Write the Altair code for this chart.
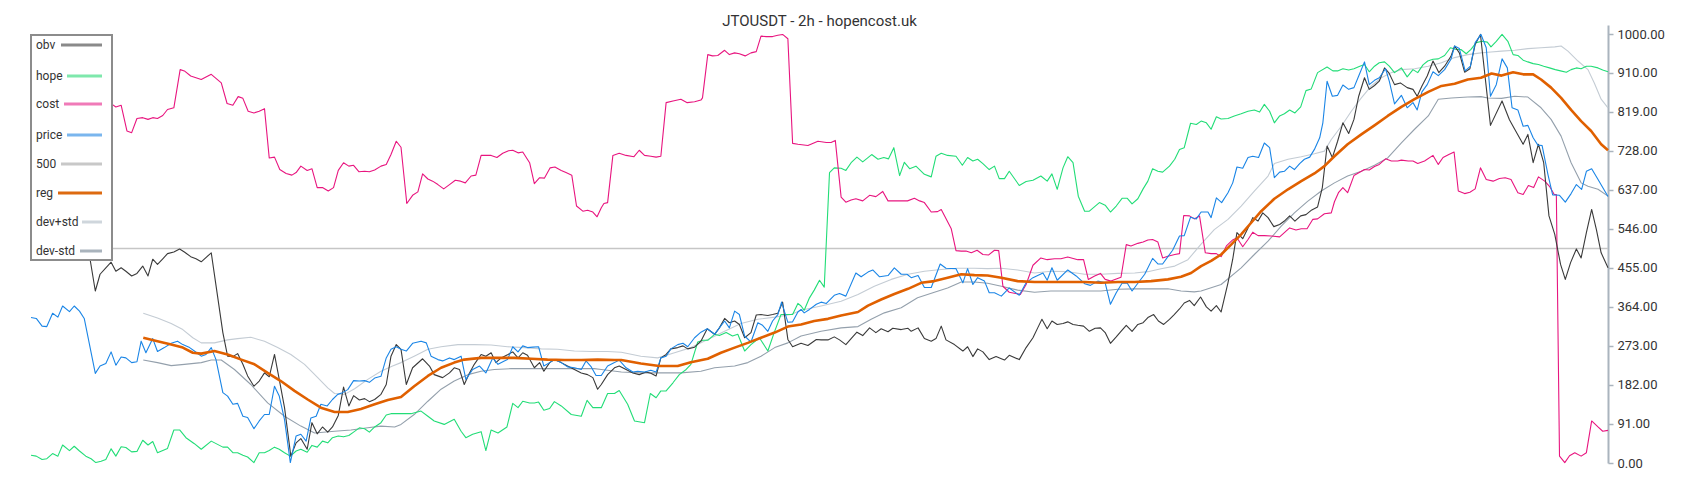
import altair as alt
import pandas as pd

TITLE = "JTOUSDT - 2h - hopencost.uk"

# ---- series values: (time index, value) ----
price = [(0,339),(1,337),(2.1,319),(3,318),(4.1,349),(5.1,340),(6,366),(7.3,353),(8.2,366),(9.2,354),(10.1,337),(12.2,209),(13.1,226),(14.2,232),(15.2,259),(16.1,228),(17.1,247),(18,245),(19.1,234),(20.1,236),(20.9,284),(21.8,257),(23.1,290),(24,260),(25.3,269),(26.6,279),(27.8,284),(28.8,276),(30.1,269),(31,261),
(32.3,249),(33.2,253),(34.2,269),(35.1,241),(36.4,164),(37.3,156),(38.3,137),(39.2,139),(40.2,109),(41.1,106),(42.3,80),(43.3,98),(44.3,113),(45.2,113),(46.2,179),(47.1,156),(48.1,101),(49.2,1),(50.3,63),(51.2,67),(52.2,51),(53.1,105),(54.1,109),(55,137),(56.2,133),(57.2,148),(58.2,160),(59.1,164),(60.1,171),(61.2,192),(62.3,191),(63.3,192),(64.2,188),(65.2,198),(66.4,202),(67.4,245),(68.3,265),(69.3,271),
(70.2,265),(71.2,261),(72.4,279),(74,284),(75,280),(75.9,249),(77.2,241),(78.1,238),(79.4,245),(80.3,241),(81.6,249),(82.5,195),(83.8,218),(85.1,226),(86.3,210),(87.6,245),(88.6,230),(89.8,238),(90.4,241),(91.4,271),(92.4,259),(93.3,273),(94.2,269),(95.2,270),(96.3,271),(97.3,226),(98.4,234),(99.3,241),(100.6,234),(101.8,224),(103.1,222),(104.4,218),(105.3,238),(106.3,224),(107.2,204),
(108.2,204),(109.4,226),(110.7,234),(111.6,240),(112.9,222),(114.2,212),(115.1,214),(116.4,212),(117.6,216),(118.6,212),(119.5,245),(120.5,249),(121.4,266),(122.7,276),(123.7,279),(124.6,271),(125.9,292),(127.1,305),(128.3,313),(129.7,300),(130.6,315),(131.6,331),(132.5,315),(133.5,354),(134.4,346),(135.4,296),(136.6,282),(137.9,327),(138.8,321),(139.8,307),(140.7,331),(141.7,346),(142.4,375),(143.6,328),(144.5,329),(145.5,352),
(146.1,358),(146.7,350),(147.7,358),(149,370),(149.9,375),(150.9,372),(152.4,391),(153.4,395),(154.6,389),(156.5,443),(157.5,434),(158.8,445),(159.7,450),(161,434),(162.6,437),(163.8,455),(165.1,440),(166.2,440),(167,432),(168.3,437),(169.5,409),(170.8,409),(172.5,464),(173.6,454),(175.5,453),(176.8,420),(177.7,453),(178.7,416),(179.6,432),(180.9,424),(181.8,397),(182.8,397),
(184.1,389),(185.6,408),(187.5,391),(188.8,420),(190.1,432),(192,443),(192.8,426),(193.7,455),(194.7,426),(196.7,450),(198.3,436),(199.9,418),(201,414),(202.4,424),(203.8,420),(204.8,370),(205.9,397),(207,419),(208,419),(208.9,401),(210,419),(211.3,440),(212.8,477),(213.8,464),(214.7,464),(215.7,481),(216.6,496),(217.9,529),(218.8,530),(220,573),(221.1,569),
(222,585),(223.3,585),(223.9,572),(224.9,618),(225.9,607),(227.1,630),(228,653),(228.8,690),(229.9,687),(230.9,712),(231.8,715),(232.9,712),(234,746),(235,735),(235.9,665),(236.9,678),(237.8,680),(238.8,692),(239.7,684),(240.7,698),(241.6,708),(242.6,713),(243.5,731),(244.5,758),(245.1,793),(245.9,890),(246.9,855),(247.9,857),(248.9,881),(250,871),(251,875),(251.9,902),(253,935),(253.9,882),(254.9,892),(255.8,898),(257,919),(257.7,890),(258.7,837),
(260,857),(261.1,828),(262.2,840),(263,823),(263.9,865),(264.9,882),(266,912),(267,903),(268.2,917),(269.4,941),(270.1,972),(271,966),(272.1,914),(273.1,925),(274,980),(275.1,999),(276.1,968),(276.9,855),(278,882),(279.1,942),(280.1,921),(281,828),(282.1,823),(283.1,785),(284,787),(285,758),(285.9,741),(286.7,740),(287.8,673),(288.7,625),(290,624),(291.1,608),(292.2,628),(293.2,649),(294.2,638),(295.1,680),(296.1,686),(297.2,663),(298.2,642),(299.2,621)]

obv = [(0,520),(2,535),(4,528),(6,540),(8,530),(10,515),
(10.9,498),(12.2,401),(13.1,440),(14.2,455),(15.2,468),(16.1,447),(17.1,455),(18,447),(19.1,436),(20.1,442),(21.2,459),(22.2,436),(23.1,475),(24,463),(25,476),(25.9,488),(27.1,492),(28.2,499),(29.1,492),(30.3,481),(31.3,476),
(32.3,469),(34.2,490),(36.4,304),(37.3,249),(38.3,248),(39.2,255),(40.2,230),(41.1,203),(42.3,179),(43.3,191),(44.3,210),(45.2,201),(46.2,253),(47.1,195),(48.1,129),(49.3,16),(50.3,47),(51.2,57),(52.4,32),(53.3,94),(54.3,68),(55.3,84),(56.3,72),(57.2,84),(58.3,111),(59.3,177),(60.3,133),(61.2,157),(62.3,147),(63.3,150),(64.2,143),(65.2,148),(66.4,160),(67.4,183),(68.3,249),(69.3,276),
(70.2,265),(71.2,183),(72.4,222),(74.3,243),(75.6,226),(76.5,206),(78.1,199),(79.4,210),(80.3,222),(81.3,218),(82.2,183),(83.2,210),(84.1,230),(85.4,253),(86.3,249),(87.3,257),(88.2,234),(89.2,245),(90.5,253),(91.4,259),(92.4,245),(93.3,257),(94.2,251),(95.5,222),(96.5,234),(97.3,214),(98.4,234),(99.3,241),(100.6,234),(101.8,226),(103.1,218),(104.4,210),(105.6,206),(106.6,199),(107.5,172),
(108.2,183),(109.4,206),(110.7,222),(111.6,226),(112.9,218),(114.2,210),(115.4,206),(116.7,212),(117.6,209),(118.6,203),(119.5,245),(120.5,253),(121.4,266),(122.7,269),(123.7,273),(124.6,266),(125.9,270),(127.1,284),(128.3,313),(129.7,300),(130.6,315),(131.6,337),(132.5,327),(133.5,331),(134.4,323),(135.4,292),(136.6,304),(137.6,345),(138.5,346),(139.8,344),(140.7,346),(141.7,349),(142.6,375),(143.6,288),(144.5,271),(145.5,276),
(146.1,279),(147.4,274),(149,288),(149.9,287),(151.2,287),(152.4,294),(153.4,287),(154.6,276),(155.6,290),(156.7,305),(157.8,297),(159.1,315),(160.3,304),(161.3,313),(162.6,306),(163.5,314),(165.1,311),(166.4,314),(167,307),(168.3,315),(169.5,290),(170.8,284),(171.7,290),(172.7,319),(173.6,287),(175.2,276),(176.8,261),(177.7,271),(178.7,248),(179.6,266),(180.6,259),(181.8,241),(183.1,248),
(184.1,243),(184.7,240),(185.6,251),(187.5,241),(188.8,269),(190.1,292),(191,315),(191.8,335),(192.8,313),(193.7,331),(194.7,323),(195.8,325),(196.7,329),(197.7,323),(198.6,321),(199.7,319),(200.8,307),(201.9,314),(202.9,315),(203.8,304),(204.8,279),(205.9,294),(206.8,307),(207.8,321),(208.9,307),(210,323),(211,327),(211.9,339),(213,346),(213.9,331),(214.9,323),(216,335),(216.9,346),(217.9,359),(218.8,373),(219.8,379),(220.7,367),(221.9,387),
(223,364),(223.9,354),(224.9,367),(225.8,352),(227.1,420),(228,475),(228.8,537),(229.9,523),(230.9,548),(231.8,572),(232.8,564),(233.7,583),(234.7,572),(235.8,551),(236.9,556),(237.8,564),(238.8,576),(239.8,564),(240.9,576),(241.9,579),(243,590),(244.1,597),(245,642),(245.9,739),(246.9,712),(247.9,750),(248.9,793),(250,768),(251,801),(251.9,855),(253,898),(253.9,871),(254.9,880),(255.8,890),(256.8,921),(257.7,908),(258.7,882),(259.8,886),
(261.1,875),(262.2,871),(263,855),(263.9,879),(264.9,902),(266,937),(267.1,910),(268.2,925),(269.4,948),(270.1,972),(271,956),(272,911),(273,919),(274,976),(275,999),(276.9,787),(279.1,844),(280.5,800),(281.5,778),(283.1,743),(284,766),(285,700),(286,743),(287,700),(288,576),(289.1,533),(290.2,463),(291.1,428),(292.1,467),(293.2,499),(294.1,478),(295.1,537),(296.1,591),(297,544),(297.9,490),(299.2,455)]

hope = [(0,18),(1,16),(2.1,8),(3,10),(4.1,22),(5.1,16),(6,42),(7.3,29),(8.2,39),(9.2,28),(10.4,16),(11.4,10),(12.3,1),(13.3,4),(14.2,8),(15.2,33),(16.1,16),(17.1,38),(18,36),(19.1,26),(20.1,27),(21.2,53),(22.2,42),(23.1,50),(24,24),(25.9,34),(27.1,77),(28.2,77),(29.4,59),(31,45),
(32.3,32),(34.2,51),(36.4,37),(37.3,37),(38.3,24),(39.2,24),(40.2,18),(41.1,14),(42.3,1),(43.3,24),(44.3,24),(45.2,29),(46.2,37),(47.1,32),(48.1,24),(49.2,16),(50.3,28),(51.2,32),(52.4,25),(53.3,41),(54.3,37),(55.3,51),(56.3,47),(57.2,59),(58.3,63),(59.3,61),(60.3,64),(61.2,72),(62.3,82),(63.3,80),(64.2,72),(65.2,84),(66.4,94),(67.4,112),(68.3,115),
(70.2,115),(72.1,115),(74,121),(75.3,109),(76.5,98),(78.4,90),(80.3,102),(81.6,74),(82.5,59),(83.8,67),(85.4,73),(86.3,29),(87.3,77),(88.6,70),(90.3,84),(91.4,139),(92.4,129),(93.3,144),(94.6,140),(95.5,140),(96.3,142),(97.3,123),(98.4,127),(99.3,143),(100.6,133),(102.5,113),(104.4,109),(105.5,146),(106.6,129),
(108.2,129),(109.4,162),(110.7,162),(111.6,169),(113.2,137),(114.5,98),(116.4,94),(117.5,162),(118.6,152),(119.5,168),(120.5,168),(121.8,187),(123,206),(124.3,218),(125.2,230),(126.5,282),(127.5,286),(128.4,286),(129.7,300),(130.6,297),(131.9,304),(133.1,296),(134.1,300),(135.4,261),(136.6,276),(138.2,292),(139.8,261),(141,304),(142.3,346),(143.6,346),(144.5,346),(145.5,372),
(146.1,366),(146.7,356),(147.7,385),(148.6,403),(149.6,426),(150.5,410),(151.5,677),(152.4,688),(153.7,687),(154.6,682),(155.6,700),(156.7,713),(157.8,702),(158.8,712),(159.5,719),(160.7,708),(161.8,712),(162.7,709),(163.7,735),(164.8,670),(165.7,701),(166.7,686),(167.9,692),(169.5,673),(170.8,667),(171.7,715),(172.7,722),(173.9,717),(175.5,715),(176.7,694),(177.7,712),(178.7,704),(179.6,708),(180.6,698),(181.8,684),(182.8,692),(183.7,663),
(184.7,663),(185.6,680),(187.5,647),(188.8,656),(190.1,659),(191.6,669),(192.8,657),(193.7,674),(194.7,638),(195.8,688),(196.7,714),(197.7,700),(198.7,622),(199.9,587),(200.8,587),(202.7,607),(203.8,601),(204.8,585),(205.9,599),(207,617),(208,617),(208.9,604),(210,616),(211,639),(211.9,657),(212.8,686),(213.8,680),(214.7,678),(216,692),(217,708),(217.9,731),(218.8,735),(220,792),(221.1,789),
(222,797),(223,793),(223.9,778),(224.9,807),(225.8,802),(227.1,803),(228.3,809),(229.6,814),(230.9,820),(232.1,823),(233.1,818),(234,836),(235,820),(235.9,793),(236.9,809),(237.8,814),(238.8,823),(239.8,816),(240.9,830),(241.9,868),(242.9,872),(244.1,910),(245.9,923),(247,914),(247.9,914),(248.9,919),(250,916),(251,919),(252,924),(253,929),(253.9,912),(254.9,925),(255.8,933),(256.8,935),(257.7,925),(258.7,910),
(260,921),(261.1,900),(262.2,917),(263.1,910),(264.1,928),(265,937),(266,941),(267,942),(268.2,950),(269.3,968),(270.4,964),(271.3,964),(272.3,954),(273.2,964),(274.2,980),(275.3,983),(276.3,981),(277,970),(278,983),(279.1,999),(280.2,983),(281.2,952),(282.1,950),(283.1,939),(284,935),(285,931),(286,929),(287,925),(288.1,921),(289.2,917),(290.2,914),(291.3,911),(292.2,917),(293.2,921),(294.1,919),(295.1,925),(296,925),(297.3,921),(298.2,916),(299.2,912)]

cost = [(0,957),(1.5,880),(4,870),(7,860),(10,850),(13,845),
(15.4,836),(16.1,830),(17.1,834),(18.2,774),(19.1,770),(20.1,803),(21.2,805),(22.2,801),(23.1,805),(24,803),(25,810),(25.9,824),(27.1,828),(28.3,917),(29.1,914),(30.3,902),(31.3,898),
(32.3,894),(34.2,906),(36.1,886),(37.2,838),(38.3,834),(39.3,854),(40.2,850),(41.2,820),(42.3,816),(43.3,820),(44.3,826),(45.2,711),(46.2,713),(47.2,684),(48.4,675),(49.5,671),(50.3,677),(51.2,692),(52.4,682),(53.3,686),(54.3,642),(55.3,642),(56.4,634),(57.4,642),(58.3,682),(59.3,700),(60.3,692),(61.2,694),(62.2,679),(63.3,680),(64.2,679),(65.2,683),(66.4,692),(67.4,696),(68.3,719),(69.3,750),
(70.2,736),(71.3,605),(72.4,624),(73.4,632),(74.3,674),(75.3,662),(76.2,657),(77.2,649),(78.3,639),(79.4,649),(80.5,659),(81.5,657),(82.4,653),(83.5,669),(84.4,671),(85.4,717),(87.3,717),(88.4,712),(89.5,722),(90.6,728),(91.4,729),(92.4,723),(93.3,725),(94.6,700),(95.5,651),(96.5,665),(97.4,664),(98.5,688),(99.4,690),(100.6,682),(101.5,677),(102.6,671),(103.5,599),(104.7,587),(105.6,589),(106.6,585),(107.4,574),
(108.2,595),(108.7,605),(109.4,607),(110.4,717),(111.6,722),(112.9,717),(114.4,714),(115.4,729),(116.4,717),(117.6,715),(118.6,713),(119.5,715),(120.5,840),(121.8,844),(123.3,848),(124.5,840),(125.9,842),(127.1,846),(127.4,851),(128.4,952),(129.3,949),(130.3,950),(131.6,962),(132.5,952),(133.5,956),(134.4,954),(135.5,949),(136.6,956),(137.6,959),(138.5,995),(139.5,994),(140.7,994),(141.7,997),(142.6,999),(143.6,989),(144.5,745),(145.5,743),
(147.4,740),(149.3,750),(150.9,747),(151.8,747),(152.6,752),(153.7,620),(154.6,608),(155.6,613),(156.5,616),(157.8,611),(159.1,624),(160.3,621),(161.6,633),(162.6,611),(163.8,611),(165.1,611),(166.3,611),(167.6,617),(168.6,611),(169.5,607),(170.8,585),(172,586),(172.7,591),(174.6,546),(175.5,495),(176.5,494),(177.4,494),(178.4,490),(179.5,496),(180.6,486),(181.7,485),(182.8,496),(183.6,495),
(184.4,412),(185.6,398),(187.7,393),(188.8,416),(190.1,461),(191.6,478),(192.8,474),(194.2,476),(195.4,476),(196.7,480),(198.6,474),(199.7,474),(200.6,428),(201.8,436),(202.9,442),(203.8,428),(204.9,424),(205.9,429),(206.8,433),(207.8,509),(208.7,506),(210,512),(211,515),(211.9,520),(212.8,521),(213.8,515),(214.7,478),(215.7,482),(217,486),(217.9,488),(218.7,577),(219.8,576),(220.7,569),(221.7,576),
(222.8,490),(223.9,488),(224.9,488),(225.8,481),(226.8,506),(228,520),(228.8,525),(229.9,504),(230.9,521),(231.8,538),(232.8,530),(234,530),(235.3,529),(236.9,527),(237.8,537),(238.8,548),(240,543),(241,546),(242.1,546),(243.2,568),(244.1,569),(245.4,581),(246.7,583),(247.3,609),(248.1,631),(248.9,642),(249.8,630),(251,670),(252,677),(253,684),(253.9,683),(254.9,691),(255.8,696),(257,709),(258.1,704),(259.3,704),
(260,706),(261.3,704),(262.2,704),(263.1,698),(264.4,704),(266,717),(267,696),(267.9,712),(269,719),(270,725),(270.8,634),(272,628),(273,631),(274,639),(275,688),(276.1,661),(277.4,657),(278.6,663),(279.7,665),(280.8,661),(282.1,630),(283.1,626),(284.1,647),(285.1,642),(286,667),(287.2,657),(288.1,645),(289,626),(289.4,626),(290,16),(291,1),(291.9,17),(292.9,24),(294.1,16),(295.1,24),(296.1,98),(297.3,84),(298.2,74),(299.2,76)]

dev_plus = [(21.3,349),(24,338),(26.6,325),(28.8,311),(30.7,292),(32.3,280),(34.8,280),(37.3,287),(39.2,290),(41.7,293),(44.3,284),(46.8,269),(49.3,253),(51.9,230),(54.4,199),(56.3,175),(57.6,162),(59.5,160),(61.4,173),(63.9,195),(66.4,214),(68.6,226),(70.2,234),(72.7,249),(75.3,265),(77.8,271),(81,276),(84.1,276),(87.3,275),(90.4,271),(93.6,269),(96.8,266),(99.9,265),(103.1,261),(106.3,260),(109.4,260),(112,258),(115.7,249),(118.9,245),(122.1,257),(125.2,269),(128.4,288),(131.6,307),(134.7,325),(137.9,335),(141.1,340),(144.2,346),(146.1,356),(149.9,366),(153.7,377),(156.9,393),(160,412),(163.2,428),(166.4,440),(169.5,447),(172.7,451),(175.8,454),(179,454),(181.5,453),(184.1,454),(187.2,450),(190.4,443),(193.5,447),(196.7,446),(199.9,440),(203,440),(206.2,442),(209.4,443),(211.9,446),(214.4,453),(217,459),(219.5,474),(222,510),(224.5,544),(227.1,568),(229.6,599),(232.1,634),(234.7,669),(235.9,698),(238.5,708),(241,714),(243.5,721),(245.4,727),(246.7,754),(248.6,785),(250.5,820),(252.4,851),(254.3,879),(256.2,898),(258.1,910),(260,917),(262.5,919),(265.1,925),(267.6,933),(270.1,945),(272.6,952),(275.1,956),(277,958),(279,960),(281.5,962),(284,966),(286.5,968),(289.1,970),(290.3,972),(291.6,960),(293.5,937),(295.4,917),(296.6,886),(297.9,848),(299.2,828)]

reg = [(21.3,292),(24,284),(26.6,276),(28.8,269),(30.7,257),(32.3,255),(34.8,261),(37.3,253),(39.9,241),(42.4,230),(44.9,210),(47.4,191),(50,168),(52.5,148),(55,129),(57.6,119),(60.1,119),(62.6,126),(65.2,137),(67.7,147),(70.2,154),(72.7,179),(75.3,203),(77.8,222),(80.3,234),(82.2,241),(85.4,245),(88.6,245),(91.7,245),(94.9,243),(98,241),(101.2,240),(104.4,240),(107.5,241),(110.7,240),(112,240),(115.7,232),(119.2,226),(122.7,226),(125.2,235),(128.4,243),(130.9,257),(133.5,269),(136,280),(138.5,292),(141.1,304),(143.6,318),(146.1,323),(148.6,331),(151.2,336),(153.7,344),(156.9,352),(158.8,367),(161.3,381),(163.8,394),(166.4,406),(168.9,420),(171.4,424),(173.9,432),(176.5,440),(179,438),(181.5,437),(184.1,432),(187.2,424),(190.4,422),(193.5,422),(196.7,422),(199.9,422),(203,420),(206.2,422),(209.4,422),(212.5,424),(215.7,428),(218.2,434),(220.1,443),(222,459),(223.9,471),(225.8,486),(227.7,509),(229.6,533),(231.5,560),(233.4,587),(235.9,616),(238.5,638),(241,657),(243.5,675),(245.4,692),(247.3,715),(249.8,743),(252.4,766),(254.9,787),(257.4,809),(260,830),(262.5,848),(265.1,865),(267.6,879),(270.1,884),(272.6,894),(275.1,898),(277.1,908),(279,903),(281.2,911),(283.1,906),(285,906),(286.5,894),(288.4,875),(290.3,851),(292.2,823),(294.1,797),(296,774),(297.9,743),(299.2,729)]

dev_minus = [(21.3,240),(24,234),(26.6,227),(29.1,230),(32.3,234),(34.2,240),(36.1,240),(38.6,218),(41.7,183),(44.9,140),(48.1,109),(51.2,86),(53.8,70),(57.6,74),(60.7,77),(63.9,82),(66.4,86),(69,84),(70.2,90),(72.7,113),(75.3,144),(77.8,172),(80.3,191),(82.9,206),(85.4,214),(87.9,218),(91.1,220),(94.2,220),(97.4,220),(100.6,220),(103.7,220),(106.9,220),(108.2,218),(112,212),(115.7,210),(119.5,210),(123.3,210),(127.1,214),(129.7,222),(133.5,226),(136,234),(138.5,249),(141.1,269),(143.6,280),(146.1,296),(149.9,307),(153.7,315),(156.9,318),(159.4,335),(161.9,350),(165.1,362),(168.2,385),(171.4,398),(173.9,408),(176.5,422),(179,422),(181.5,419),(184.1,412),(187.2,403),(190.4,398),(193.5,401),(196.7,401),(199.9,401),(203,401),(206.2,405),(209.4,406),(212.5,406),(215.7,406),(218.2,401),(220.7,399),(222,401),(225.8,416),(229.6,455),(232.1,486),(234.7,517),(237.2,552),(239.7,583),(242.2,610),(244.8,634),(247.3,653),(249.8,669),(252.4,680),(254.9,694),(257.4,711),(260,746),(262.5,778),(265.1,809),(267,848),(269.5,851),(272.6,853),(275.1,854),(276.4,851),(279,850),(281.5,855),(284,853),(286.5,828),(288.4,801),(290.3,762),(292.2,700),(294.1,653),(295.4,645),(297.3,638),(299.2,622)]

level_500 = [(0,500),(299.2,500)]

y_ticks = [0, 91, 182, 273, 364, 455, 546, 637, 728, 819, 910, 1000]
legend_labels = ["obv", "hope", "cost", "price", "500", "reg", "dev+std", "dev-std"]

# ---- styling ----
line_colors = {"obv": "#3a3a3a", "hope": "#22dd77", "cost": "#e8157f", "price": "#1a85e6",
               "500": "#c6c6c6", "reg": "#e06000", "dev+std": "#c4ccd4", "dev-std": "#94a0ac"}
line_widths = {"obv": 1.1, "hope": 1.1, "cost": 1.1, "price": 1.1, "500": 1.6, "reg": 2.6,
               "dev+std": 1.1, "dev-std": 1.1}
legend_colors = ["#8a8a8a", "#7ee8ac", "#f07ab8", "#7ab6ee", "#c8c8c8", "#dd6a10", "#cfd6dc", "#a9b3bc"]
# legend layout in pixels (relative to plot origin)
legend_row_y = [20, 51, 79, 110, 139, 168, 197, 226]
legend_sym_x1 = [30, 36, 33, 36, 30, 27, 51, 49]
legend_sym_x2 = 71
legend_text_x = 5
legend_box = dict(x=0, x2=81, y=10, y2=235)

FONT = "Roboto"

xenc = alt.X("t:Q", scale=alt.Scale(domain=[0, 299.2], nice=False, zero=False), axis=None)
yaxis = alt.Axis(orient="right", values=y_ticks, format=".2f", title=None, grid=False,
                 domainColor="#aab4be", domainWidth=2, tickColor="#aab4be", tickWidth=1.5,
                 tickSize=5, labelPadding=4, labelFont=FONT, labelFontSize=13,
                 labelColor="#333333")
yenc = alt.Y("v:Q", scale=alt.Scale(domain=[0, 1021], nice=False, zero=True), axis=yaxis)


def series_line(pairs, name):
    frame = pd.DataFrame(pairs, columns=["t", "v"])
    return alt.Chart(frame).mark_line(color=line_colors[name], strokeWidth=line_widths[name],
                                      strokeJoin="round").encode(x=xenc, y=yenc)


data_layer = alt.layer(
    series_line(level_500, "500"),
    series_line(dev_plus, "dev+std"),
    series_line(dev_minus, "dev-std"),
    series_line(hope, "hope"),
    series_line(cost, "cost"),
    series_line(obv, "obv"),
    series_line(price, "price"),
    series_line(reg, "reg"),
)

leg_df = pd.DataFrame({"label": legend_labels, "ly": legend_row_y, "lx1": legend_sym_x1,
                       "lx2": [legend_sym_x2] * len(legend_labels), "lc": legend_colors})
box_df = pd.DataFrame([legend_box])

box = alt.Chart(box_df).mark_rect(fill="white", stroke="#8c8c8c", strokeWidth=2).encode(
    x=alt.X("x:Q", scale=None, axis=None), x2="x2:Q",
    y=alt.Y("y:Q", scale=None, axis=None), y2="y2:Q")
syms = alt.Chart(leg_df).mark_rule(strokeWidth=3).encode(
    x=alt.X("lx1:Q", scale=None, axis=None), x2="lx2:Q",
    y=alt.Y("ly:Q", scale=None, axis=None),
    color=alt.Color("lc:N", scale=None, legend=None))
texts = alt.Chart(leg_df).mark_text(align="left", baseline="middle", font=FONT, fontSize=12,
                                    color="#333333").encode(
    x=alt.value(legend_text_x), y=alt.Y("ly:Q", scale=None, axis=None), text="label:N")

legend_layer = alt.layer(box, syms, texts)

chart = alt.layer(data_layer, legend_layer).resolve_scale(
    x="independent", y="independent", color="independent"
).properties(
    width=1577, height=438,
    padding={"left": 22, "top": 6, "right": 5, "bottom": 5},
    title=alt.TitleParams(TITLE, font=FONT, fontSize=15, fontWeight="normal", color="#333333",
                          anchor="middle", offset=-4),
).configure_view(stroke=None)

chart.save("out.html", embed_options={"renderer": "svg", "actions": False})
